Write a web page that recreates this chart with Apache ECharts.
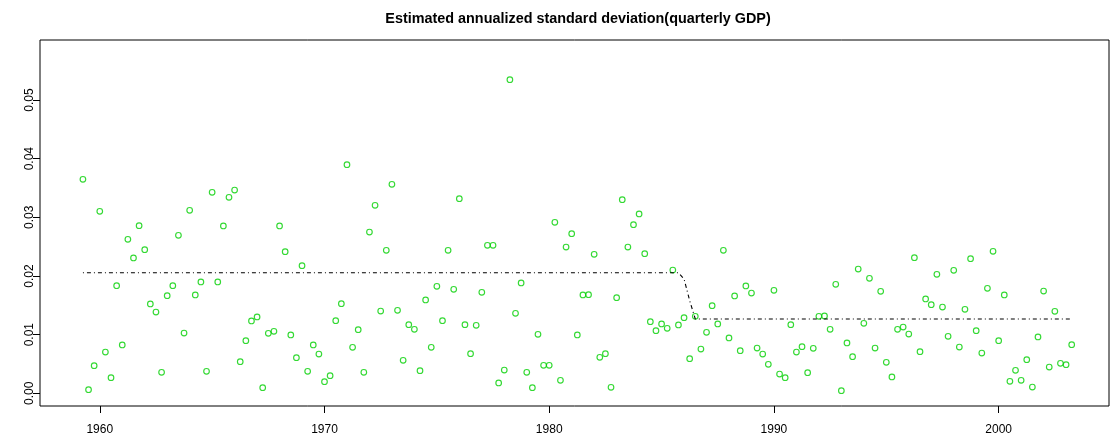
<!DOCTYPE html>
<html>
<head>
<meta charset="utf-8">
<script src="https://cdn.jsdelivr.net/npm/echarts@6/dist/echarts.min.js"></script>
<style>
  html, body { margin: 0; padding: 0; background: #fff; }
  #chart { width: 1111px; height: 437px; }
</style>
</head>
<body>
<div id="chart"></div>
<script>
// Quarterly observations, 1959Q2 .. 2003Q2
const startYear = 1959.25;

// Estimated annualized standard deviation (one value per quarter)
const sdValues = [
  0.03649, 0.00061, 0.00471, 0.03103, 0.00704, 0.00266, 0.01835, 0.00824, 0.02626, 0.02307,
  0.02858, 0.02448, 0.01523, 0.01386, 0.00358, 0.01664, 0.01835, 0.02694, 0.01028, 0.03120,
  0.01676, 0.01898, 0.00375, 0.03427, 0.01898, 0.02853, 0.03342, 0.03466, 0.00539, 0.00897,
  0.01233, 0.01301, 0.00095, 0.01023, 0.01057, 0.02853, 0.02414, 0.00994, 0.00607, 0.02176,
  0.00375, 0.00824, 0.00670, 0.00198, 0.00300, 0.01238, 0.01528, 0.03898, 0.00784, 0.01084,
  0.00358, 0.02750, 0.03205, 0.01403, 0.02438, 0.03564, 0.01415, 0.00563, 0.01170, 0.01091,
  0.00385, 0.01591, 0.00784, 0.01824, 0.01238, 0.02438, 0.01773, 0.03318, 0.01170, 0.00675,
  0.01159, 0.01722, 0.02523, 0.02523, 0.00176, 0.00397, 0.05347, 0.01364, 0.01881, 0.00358,
  0.00095, 0.01006, 0.00477, 0.00477, 0.02916, 0.00222, 0.02494, 0.02721, 0.00994, 0.01676,
  0.01681, 0.02370, 0.00614, 0.00675, 0.00102, 0.01630, 0.03301, 0.02494, 0.02875, 0.03057,
  0.02380, 0.01221, 0.01067, 0.01182, 0.01108, 0.02102, 0.01165, 0.01289, 0.00590, 0.01313,
  0.00755, 0.01040, 0.01494, 0.01182, 0.02438, 0.00943, 0.01659, 0.00726, 0.01830, 0.01710,
  0.00772, 0.00670, 0.00494, 0.01756, 0.00329, 0.00266, 0.01170, 0.00704, 0.00795, 0.00351,
  0.00767, 0.01313, 0.01318, 0.01091, 0.01858, 0.00044, 0.00858, 0.00624, 0.02119, 0.01194,
  0.01961, 0.00772, 0.01739, 0.00529, 0.00278, 0.01091, 0.01130, 0.01011, 0.02312, 0.00709,
  0.01608, 0.01511, 0.02029, 0.01471, 0.00972, 0.02097, 0.00789, 0.01432, 0.02295, 0.01067,
  0.00687, 0.01790, 0.02421, 0.00897, 0.01676, 0.00205, 0.00392, 0.00222, 0.00573, 0.00107,
  0.00960, 0.01744, 0.00448, 0.01398, 0.00512, 0.00488, 0.00829
];

// Regime level (dash-dot line): high regime, transition, low regime
const highLevel = 0.02055;
const lowLevel = 0.01267;
const transitionValues = [0.0195, 0.0158];
const highCount = 107;

const regimeValues = [];
for (let i = 0; i < sdValues.length; i++) {
  if (i < highCount) regimeValues.push(highLevel);
  else if (i < highCount + transitionValues.length) regimeValues.push(transitionValues[i - highCount]);
  else regimeValues.push(lowLevel);
}

const years = sdValues.map((_, i) => startYear + i * 0.25);

const xTicks = [1960, 1970, 1980, 1990, 2000];
const yTicks = [0, 0.01, 0.02, 0.03, 0.04, 0.05];
const titleText = 'Estimated annualized standard deviation(quarterly GDP)';

const FONT = '"Liberation Sans", Arial, Helvetica, sans-serif';

const chart = echarts.init(document.getElementById('chart'), null, { renderer: 'canvas' });

const option = {
  animation: false,
  backgroundColor: '#ffffff',
  title: {
    text: titleText,
    left: 573,
    top: 7,
    textAlign: 'center',
    textStyle: { fontFamily: FONT, fontWeight: 'bold', fontSize: 14.4, color: '#000' }
  },
  grid: {
    left: 40, right: 2, top: 40, bottom: 31,
    show: true, borderColor: '#000', borderWidth: 1, backgroundColor: 'transparent'
  },
  xAxis: {
    type: 'value',
    min: 1957.34,
    max: 2004.91,
    axisLine: { show: false, onZero: false },
    splitLine: { show: false },
    axisTick: { show: true, length: 7, lineStyle: { color: '#000', width: 1 }, customValues: xTicks },
    axisLabel: {
      customValues: xTicks,
      color: '#000', fontSize: 12, fontFamily: FONT, margin: 18,
      formatter: v => String(Math.round(v))
    }
  },
  yAxis: {
    type: 'value',
    min: -0.002165,
    max: 0.060235,
    axisLine: { show: false, onZero: false },
    splitLine: { show: false },
    axisTick: { show: true, length: 7, lineStyle: { color: '#000', width: 1 }, customValues: yTicks },
    axisLabel: {
      customValues: yTicks,
      rotate: 90,
      color: '#000', fontSize: 12, fontFamily: FONT, margin: 4,
      formatter: v => v.toFixed(2)
    }
  },
  series: [
    {
      type: 'scatter',
      data: years.map((x, i) => [x, sdValues[i]]),
      symbol: 'circle',
      symbolSize: 5.6,
      itemStyle: { color: 'rgba(0,0,0,0)', borderColor: '#00D000', borderWidth: 1.15 },
      emphasis: { disabled: true },
      z: 2
    },
    {
      type: 'line',
      data: years.map((x, i) => [x, regimeValues[i]]),
      showSymbol: false,
      symbol: 'none',
      lineStyle: { color: '#000', width: 1.1, type: [1, 3, 4, 3] },
      emphasis: { disabled: true },
      z: 3
    }
  ]
};

chart.setOption(option);
</script>
</body>
</html>
